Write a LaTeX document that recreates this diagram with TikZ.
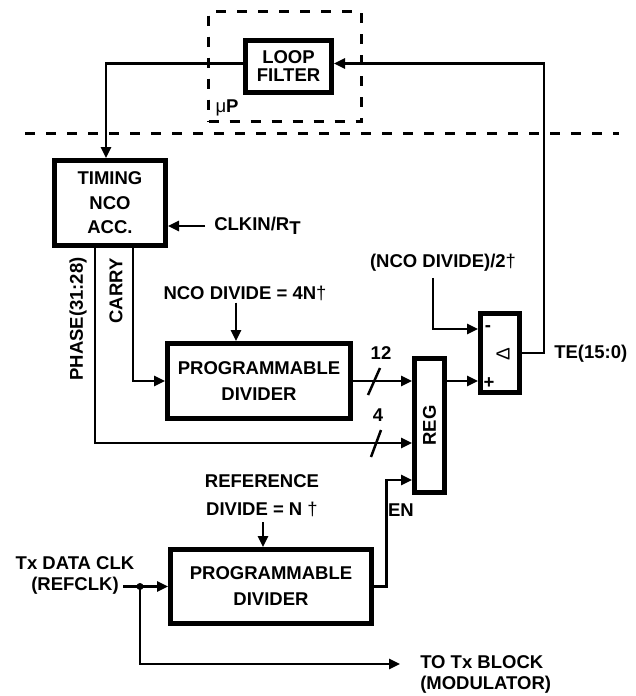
\documentclass[tikz,border=0pt]{standalone}
\usepackage{fontspec}
\setmainfont{Liberation Sans}
\usetikzlibrary{arrows.meta,positioning}

\begin{document}
\begin{tikzpicture}[x=1pt,y=-1pt,>={Triangle[length=11pt,width=10pt]},line width=2.5pt,
  every node/.style={inner sep=1pt,font=\bfseries\fontsize{18.5}{21}\selectfont}]
\tikzstyle{block}=[draw,line width=5pt,align=center]
\tikzstyle{dash line}=[line width=3pt,dash pattern=on 10pt off 11pt]
\useasboundingbox (0,0) rectangle (636,696);

% uP part
\node[draw,dash line,minimum width=153pt,minimum height=110pt] (mup) at (285,66.5) {};
\node (mulabel) at (227,108) {{\mdseries μ}P};
\node[block,minimum width=86pt,minimum height=52pt,font=\bfseries\fontsize{18.5}{18}\selectfont] (loop) at (288.5,66.5) {LOOP\\FILTER};
\coordinate (divl) at (25,133);
\coordinate (divr) at (619,133);
\draw[dash line] (divl) -- (divr);

% blocks
\node[block,minimum width=111pt,minimum height=85pt,font=\bfseries\fontsize{18.5}{24.5}\selectfont] (timing) at (110,203) {TIMING\\NCO\\ACC.};
\node[block,minimum width=183pt,minimum height=75pt,font=\bfseries\fontsize{18.5}{26}\selectfont] (prog1) at (259,381) {PROGRAMMABLE\\DIVIDER};
\node[block,minimum width=30pt,minimum height=134pt] (reg) at (429.5,425.5) {};
\node[rotate=90] (reglabel) at (reg) {REG};
\node[block,minimum width=39pt,minimum height=79pt] (cmp) at (500,353) {};
\node[rotate=90,font=\mdseries\fontsize{19}{19}\selectfont] (delta) at (503,354) {Δ};
\node (minus) at (488,329) {-};
\node (plus) at (489,383) {+};
\node[block,minimum width=201pt,minimum height=74pt,font=\bfseries\fontsize{18.5}{26}\selectfont] (prog2) at (271,586.5) {PROGRAMMABLE\\DIVIDER};

% labels
\node[anchor=west] (clkin) at (212,226) {CLKIN/R\raisebox{-4pt}{T}};
\node[anchor=west] (te) at (552,354) {TE(15:0)};
\node (ncodiv) at (245,293) {NCO DIVIDE = 4N{\mdseries †}};
\node (half) at (443,263) {(NCO DIVIDE)/2{\mdseries †}};
\node[rotate=90] (carry) at (116,291) {CARRY};
\node[rotate=90] (phase) at (78,319) {PHASE(31:28)};
\node (twelve) at (381,353) {12};
\node (four) at (378,415) {4};
\node (en) at (401,510) {EN};
\node[align=center,font=\bfseries\fontsize{18.5}{28}\selectfont] (refdiv) at (262,496) {REFERENCE\\DIVIDE = N {\mdseries †}};
\node[align=center] (txclk) at (75,575.5) {Tx DATA CLK\\(REFCLK)};
\node[align=left,anchor=west] (totx) at (418,674.5) {TO Tx BLOCK\\(MODULATOR)};

% connections
\coordinate (fb) at (544,353);
\draw[->] (cmp.east) -- (fb) |- ([yshift=3pt]loop.east);
\draw[->] ([yshift=3pt]loop.west) -| ([xshift=-4pt]timing.north);
\draw[->] (clkin.west) ++(-7,0) -- (clkin.west -| timing.east);
\draw[->] ([xshift=23pt]timing.south) |- (prog1.west);
\draw[->] ([xshift=-15pt]timing.south) |- ([yshift=-17.5pt]reg.west);
\coordinate (ncoarrow) at ([xshift=-9pt]ncodiv.south);
\draw[->] (ncoarrow) -- (ncoarrow |- prog1.north);
\draw[->] (prog1.east) -- (prog1.east -| reg.west);
\draw[->] (prog1.east -| reg.east) -- (prog1.east -| cmp.west);
\coordinate (halfarrow) at ([xshift=-10pt,yshift=-4pt]half.south);
\draw[->] (halfarrow) |- ([yshift=24pt]cmp.west);
\draw (368,395) -- (380,368);
\draw (371,457) -- (381,430);
\draw[->] (prog2.east) -- ++(12.5,0) |- ([yshift=-54.5pt]reg.west);
\coordinate (refarrow) at ([xshift=1pt,yshift=-3pt]refdiv.south);
\draw[->] (refarrow) -- (refarrow |- prog2.north);
\coordinate (txin) at (123,586.5);
\coordinate (split) at (140,586.5);
\coordinate (txout) at (400,664);
\draw (txin) -- (split);
\draw[->] (split) -- (prog2.west);
\draw[->] (split) |- (txout);
\fill (split) circle (3.5pt);
\end{tikzpicture}
\end{document}
